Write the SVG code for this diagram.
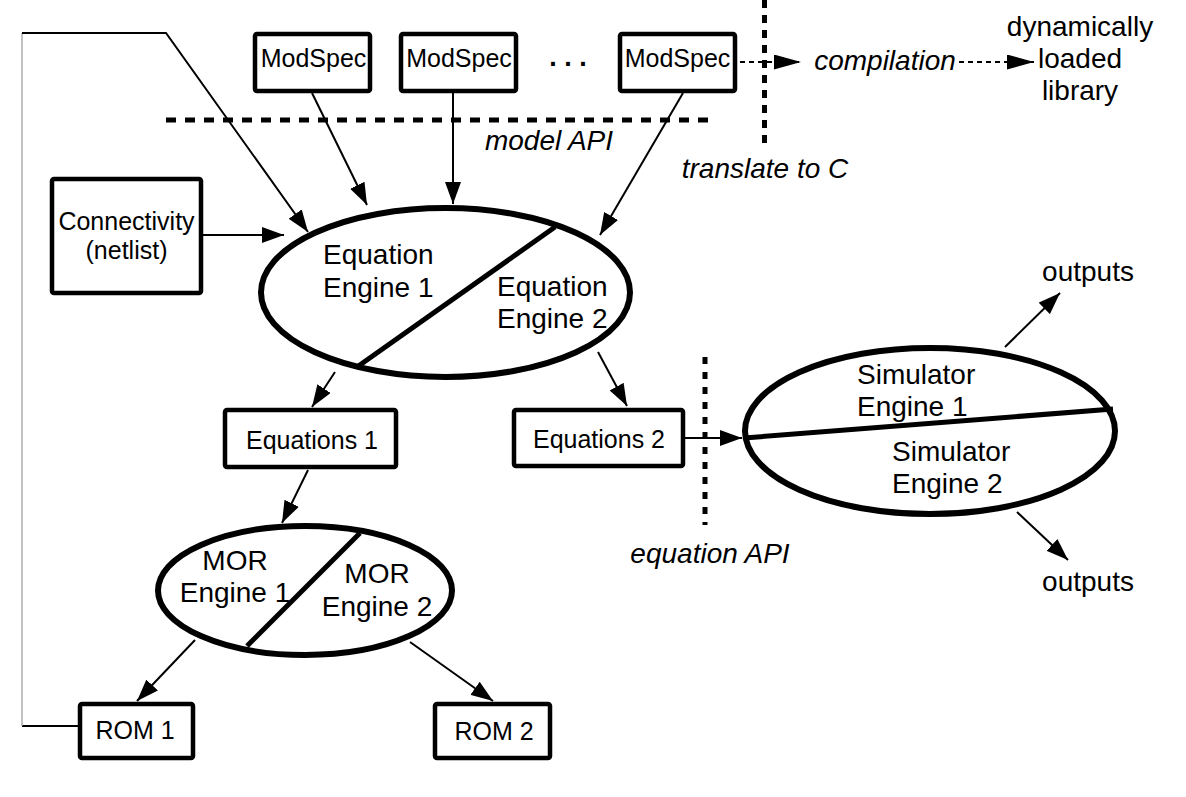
<svg xmlns="http://www.w3.org/2000/svg" width="1186" height="797" viewBox="0 0 1186 797">
<style>
text{font-family:"Liberation Sans",Arial,Helvetica,sans-serif;fill:#000}
.big{font-size:28px}
.box{font-size:25px}
.it{font-size:28px;font-style:italic}
.mid{text-anchor:middle}
.node{fill:#fff;stroke:#000;stroke-width:4.5}
.ell{fill:#fff;stroke:#000;stroke-width:6}
.div{stroke:#000;stroke-width:5;fill:none}
.c{stroke:#000;stroke-width:2;fill:none}
.dot{stroke:#000;stroke-width:2;fill:none;stroke-dasharray:5 4}
.api{stroke:#000;stroke-width:5;fill:none}
</style>
<defs>
<marker id="ah" markerUnits="userSpaceOnUse" markerWidth="22" markerHeight="16" refX="22" refY="8" orient="auto">
<path d="M0,0 L22,8 L0,16 z" fill="#000"/>
</marker>
<marker id="ahd" markerUnits="userSpaceOnUse" markerWidth="27" markerHeight="15" refX="27" refY="7.5" orient="auto">
<path d="M0,0 L27,7.5 L0,15 z" fill="#000"/>
</marker>
</defs>
<rect width="1186" height="797" fill="#fff"/>

<g id="api-lines">
<line class="api" x1="166" y1="120" x2="713" y2="120" stroke-dasharray="10 9"/>
<line class="api" x1="764.5" y1="0" x2="764.5" y2="148" stroke-dasharray="8 7"/>
<line class="api" x1="705" y1="357" x2="705" y2="525" stroke-dasharray="7 8"/>
<text class="it mid" x="549" y="150">model API</text>
<text class="it mid" x="765" y="178">translate to C</text>
<text class="it mid" x="710" y="563">equation API</text>
</g>

<g id="connectors">
<path class="c" d="M80,726 H22"/>
<path d="M22,726 V33" stroke="#999" stroke-width="1.2" fill="none"/>
<path class="c" d="M22,33 H166 L308,232" marker-end="url(#ah)"/>
<line class="c" x1="312" y1="93" x2="367" y2="205" marker-end="url(#ah)"/>
<line class="c" x1="453" y1="93" x2="453" y2="204" marker-end="url(#ah)"/>
<line class="c" x1="683" y1="93" x2="600" y2="235" marker-end="url(#ah)"/>
<line class="c" x1="203" y1="235" x2="284" y2="235" marker-end="url(#ah)"/>
<line class="c" x1="335" y1="372" x2="312" y2="407" marker-end="url(#ah)"/>
<line class="c" x1="598" y1="352" x2="627" y2="406" marker-end="url(#ah)"/>
<line class="c" x1="308" y1="470" x2="282" y2="523" marker-end="url(#ah)"/>
<line class="c" x1="685" y1="438" x2="742" y2="438" marker-end="url(#ah)"/>
<line class="c" x1="195" y1="640" x2="137" y2="701" marker-end="url(#ah)"/>
<line class="c" x1="410" y1="642" x2="493" y2="701" marker-end="url(#ah)"/>
<line class="c" x1="1005" y1="347" x2="1060" y2="293" marker-end="url(#ah)"/>
<line class="c" x1="1017" y1="512" x2="1068" y2="560" marker-end="url(#ah)"/>
<line class="dot" x1="740" y1="62" x2="801" y2="62" marker-end="url(#ahd)"/>
<line class="dot" x1="959" y1="62" x2="1034" y2="62" marker-end="url(#ahd)"/>
</g>

<g id="modspec1"><rect class="node" x="255" y="34" width="115" height="57" rx="2"/><text class="box mid" x="313.5" y="67">ModSpec</text></g>
<g id="modspec2"><rect class="node" x="401" y="34" width="115" height="57" rx="2"/><text class="box mid" x="459" y="67">ModSpec</text></g>
<g id="ellipsis"><text class="mid" x="568" y="66" style="font-size:27px;font-weight:bold">. . .</text></g>
<g id="modspec3"><rect class="node" x="620" y="34" width="115" height="57" rx="2"/><text class="box mid" x="677.5" y="67">ModSpec</text></g>

<g id="compilation"><text class="it mid" x="885" y="70">compilation</text></g>
<g id="library">
<text class="big mid" x="1080" y="36">dynamically</text>
<text class="big mid" x="1080" y="68">loaded</text>
<text class="big mid" x="1080" y="100">library</text>
</g>

<g id="connectivity"><rect class="node" x="52" y="179" width="149" height="114" rx="2"/>
<text class="box mid" x="126.5" y="230">Connectivity</text><text class="box mid" x="126.5" y="259">(netlist)</text></g>

<g id="equation-engine">
<ellipse class="ell" cx="445.5" cy="292.5" rx="184.5" ry="84.5"/>
<line class="div" x1="555" y1="227" x2="357" y2="367"/>
<text class="big" x="323" y="264">Equation</text><text class="big" x="323" y="297">Engine 1</text>
<text class="big" x="497" y="296">Equation</text><text class="big" x="497" y="328">Engine 2</text>
</g>

<g id="equations1"><rect class="node" x="225" y="410" width="171" height="57" rx="2"/><text class="box mid" x="312" y="449">Equations 1</text></g>
<g id="equations2"><rect class="node" x="514" y="410" width="169" height="56" rx="2"/><text class="box mid" x="599" y="448">Equations 2</text></g>

<g id="simulator-engine">
<ellipse class="ell" cx="930" cy="431" rx="185" ry="83"/>
<line class="div" x1="744" y1="438" x2="1113" y2="409"/>
<text class="big" x="857" y="384">Simulator</text><text class="big" x="857" y="416">Engine 1</text>
<text class="big" x="892" y="461">Simulator</text><text class="big" x="892" y="493">Engine 2</text>
</g>

<g id="outputs1"><text class="big mid" x="1088" y="281">outputs</text></g>
<g id="outputs2"><text class="big mid" x="1088" y="591">outputs</text></g>

<g id="mor-engine">
<ellipse class="ell" cx="305" cy="590.5" rx="147" ry="64.5"/>
<line class="div" x1="360" y1="533" x2="247" y2="646"/>
<text class="big mid" x="235" y="570">MOR</text><text class="big mid" x="235" y="602">Engine 1</text>
<text class="big mid" x="377" y="583">MOR</text><text class="big mid" x="377" y="616">Engine 2</text>
</g>

<g id="rom1"><rect class="node" x="80" y="704" width="113" height="54" rx="2"/><text class="box mid" x="135" y="739">ROM 1</text></g>
<g id="rom2"><rect class="node" x="435" y="704" width="115" height="54" rx="2"/><text class="box mid" x="494" y="740">ROM 2</text></g>
</svg>
